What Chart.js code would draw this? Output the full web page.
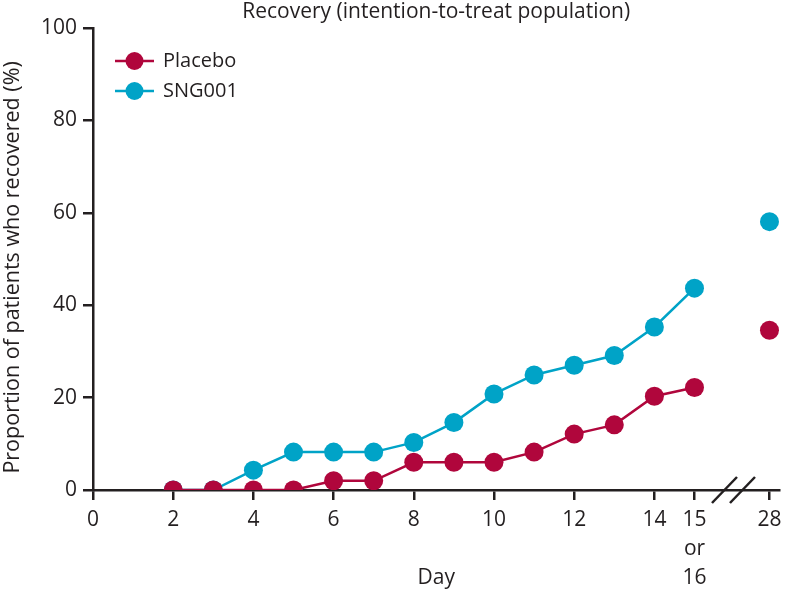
<!DOCTYPE html>
<html>
<head>
<meta charset="utf-8">
<script src="https://cdn.jsdelivr.net/npm/chart.js@4/dist/chart.umd.min.js"></script>
<style>
  html, body { margin: 0; padding: 0; background: #fff; }
  #wrap { width: 789px; height: 597px; }
</style>
</head>
<body>
<div id="wrap"><canvas id="recoveryChart"></canvas></div>
<script>
// Data
const days = [2, 3, 4, 5, 6, 7, 8, 9, 10, 11, 12, 13, 14, 15, 28];
const placebo = [0, 0, 0, 0, 2.0, 2.0, 6.0, 6.0, 6.0, 8.2, 12.1, 14.1, 20.3, 22.2, 34.6];
const sng001 = [0, 0, 4.3, 8.2, 8.2, 8.2, 10.3, 14.6, 20.8, 24.9, 27.0, 29.1, 35.3, 43.7, 58.1];
const xTickDays = [0, 2, 4, 6, 8, 10, 12, 14, 15, 28];
const yTicks = [0, 20, 40, 60, 80, 100];

const INK = '#231f20';
const RED = '#b0063c';
const BLUE = '#00a3c7';
const FONT = '"Open Sans", "DejaVu Sans", sans-serif';

// broken axis: day 28 sits just after day 15
const DAY28_POS = 16.87;
function xPos(day) {
    return day <= 15 ? day : DAY28_POS;
}

function toPoints(values) {
    return days.map((d, i) => ({ x: xPos(d), y: values[i] }));
}

// legend symbol: short line with a dot on it
function legendSymbol(color) {
    const c = document.createElement('canvas');
    c.width = 64;
    c.height = 24;
    const g = c.getContext('2d');
    g.strokeStyle = color;
    g.lineWidth = 2.5;
    g.beginPath();
    g.moveTo(19, 12);
    g.lineTo(58, 12);
    g.stroke();
    g.fillStyle = color;
    g.beginPath();
    g.arc(38.5, 12, 9, 0, Math.PI * 2);
    g.fill();
    return c;
}

// hide the segment that jumps across the axis break
const gapSegment = {
    borderColor: ctx => (ctx.p1DataIndex === days.length - 1 ? 'transparent' : undefined)
};

// the "//" marks on the x axis
const axisBreak = {
    id: 'axisBreak',
    afterDraw(chart) {
        const xs = chart.scales.x;
        const y0 = chart.scales.y.getPixelForValue(0);
        const mid = (xs.getPixelForValue(15) + xs.getPixelForValue(DAY28_POS)) / 2;
        const ctx = chart.ctx;
        ctx.save();
        ctx.strokeStyle = INK;
        ctx.lineWidth = 2.5;
        [mid - 8, mid + 10].forEach(cx => {
            ctx.beginPath();
            ctx.moveTo(cx - 12, y0 + 13);
            ctx.lineTo(cx + 13, y0 - 13);
            ctx.stroke();
        });
        ctx.restore();
    }
};

const ctx = document.getElementById('recoveryChart').getContext('2d');
new Chart(ctx, {
    type: 'line',
    data: {
        datasets: [
            {
                label: 'Placebo',
                data: toPoints(placebo),
                borderColor: RED,
                backgroundColor: RED,
                pointBackgroundColor: RED,
                pointBorderWidth: 0,
                pointRadius: 9.5,
                borderWidth: 2.5,
                segment: gapSegment
            },
            {
                label: 'SNG001',
                data: toPoints(sng001),
                borderColor: BLUE,
                backgroundColor: BLUE,
                pointBackgroundColor: BLUE,
                pointBorderWidth: 0,
                pointRadius: 9.5,
                borderWidth: 2.5,
                segment: gapSegment
            }
        ]
    },
    options: {
        responsive: true,
        maintainAspectRatio: false,
        animation: false,
        layout: { padding: { right: 1 } },
        plugins: {
            title: {
                display: true,
                text: 'Recovery (intention-to-treat population)',
                fullSize: false,
                color: INK,
                font: { family: FONT, size: 21, weight: 'normal', lineHeight: 1.1 },
                padding: { top: 0, bottom: 5 }
            },
            legend: {
                position: 'chartArea',
                align: 'start',
                title: { display: true, text: '', padding: { top: 29, bottom: 0 }, font: { size: 10 } },
                labels: {
                    usePointStyle: true,
                    pointStyleWidth: 50,
                    padding: 10,
                    color: INK,
                    font: { family: FONT, size: 20 },
                    generateLabels: chart => chart.data.datasets.map((ds, i) => ({
                        text: ds.label,
                        pointStyle: legendSymbol(ds.borderColor),
                        fontColor: INK,
                        datasetIndex: i,
                        hidden: false,
                        lineWidth: 0
                    }))
                }
            },
            tooltip: { enabled: false }
        },
        scales: {
            x: {
                type: 'linear',
                min: 0,
                max: 17.12,
                afterBuildTicks: scale => {
                    scale.ticks = xTickDays.map(d => ({ value: xPos(d) }));
                },
                afterFit: scale => { scale.height = 107; },
                ticks: {
                    autoSkip: false,
                    maxRotation: 0,
                    padding: 5,
                    color: INK,
                    font: { family: FONT, size: 21, lineHeight: 1.4 },
                    callback: (value, index) => {
                        const d = xTickDays[index];
                        return d === 15 ? ['15', 'or', '16'] : String(d);
                    }
                },
                grid: { drawOnChartArea: false, tickLength: 10, color: INK, lineWidth: 2.5 },
                border: { display: true, color: INK, width: 2.5 },
                title: {
                    display: true,
                    text: 'Day',
                    color: INK,
                    font: { family: FONT, size: 21 },
                    padding: { top: 0, bottom: 6 }
                }
            },
            y: {
                min: 0,
                max: 100,
                afterBuildTicks: scale => {
                    scale.ticks = yTicks.map(v => ({ value: v }));
                },
                afterFit: scale => { scale.width = 93; },
                ticks: {
                    padding: 6,
                    color: INK,
                    font: { family: FONT, size: 21 }
                },
                grid: { drawOnChartArea: false, tickLength: 10, color: INK, lineWidth: 2.5 },
                border: { display: true, color: INK, width: 2.5 },
                title: {
                    display: true,
                    text: 'Proportion of patients who recovered (%)   ',
                    color: INK,
                    font: { family: FONT, size: 21.5 },
                    padding: { top: 0, bottom: 0 }
                }
            }
        }
    },
    plugins: [axisBreak]
});
</script>
</body>
</html>
